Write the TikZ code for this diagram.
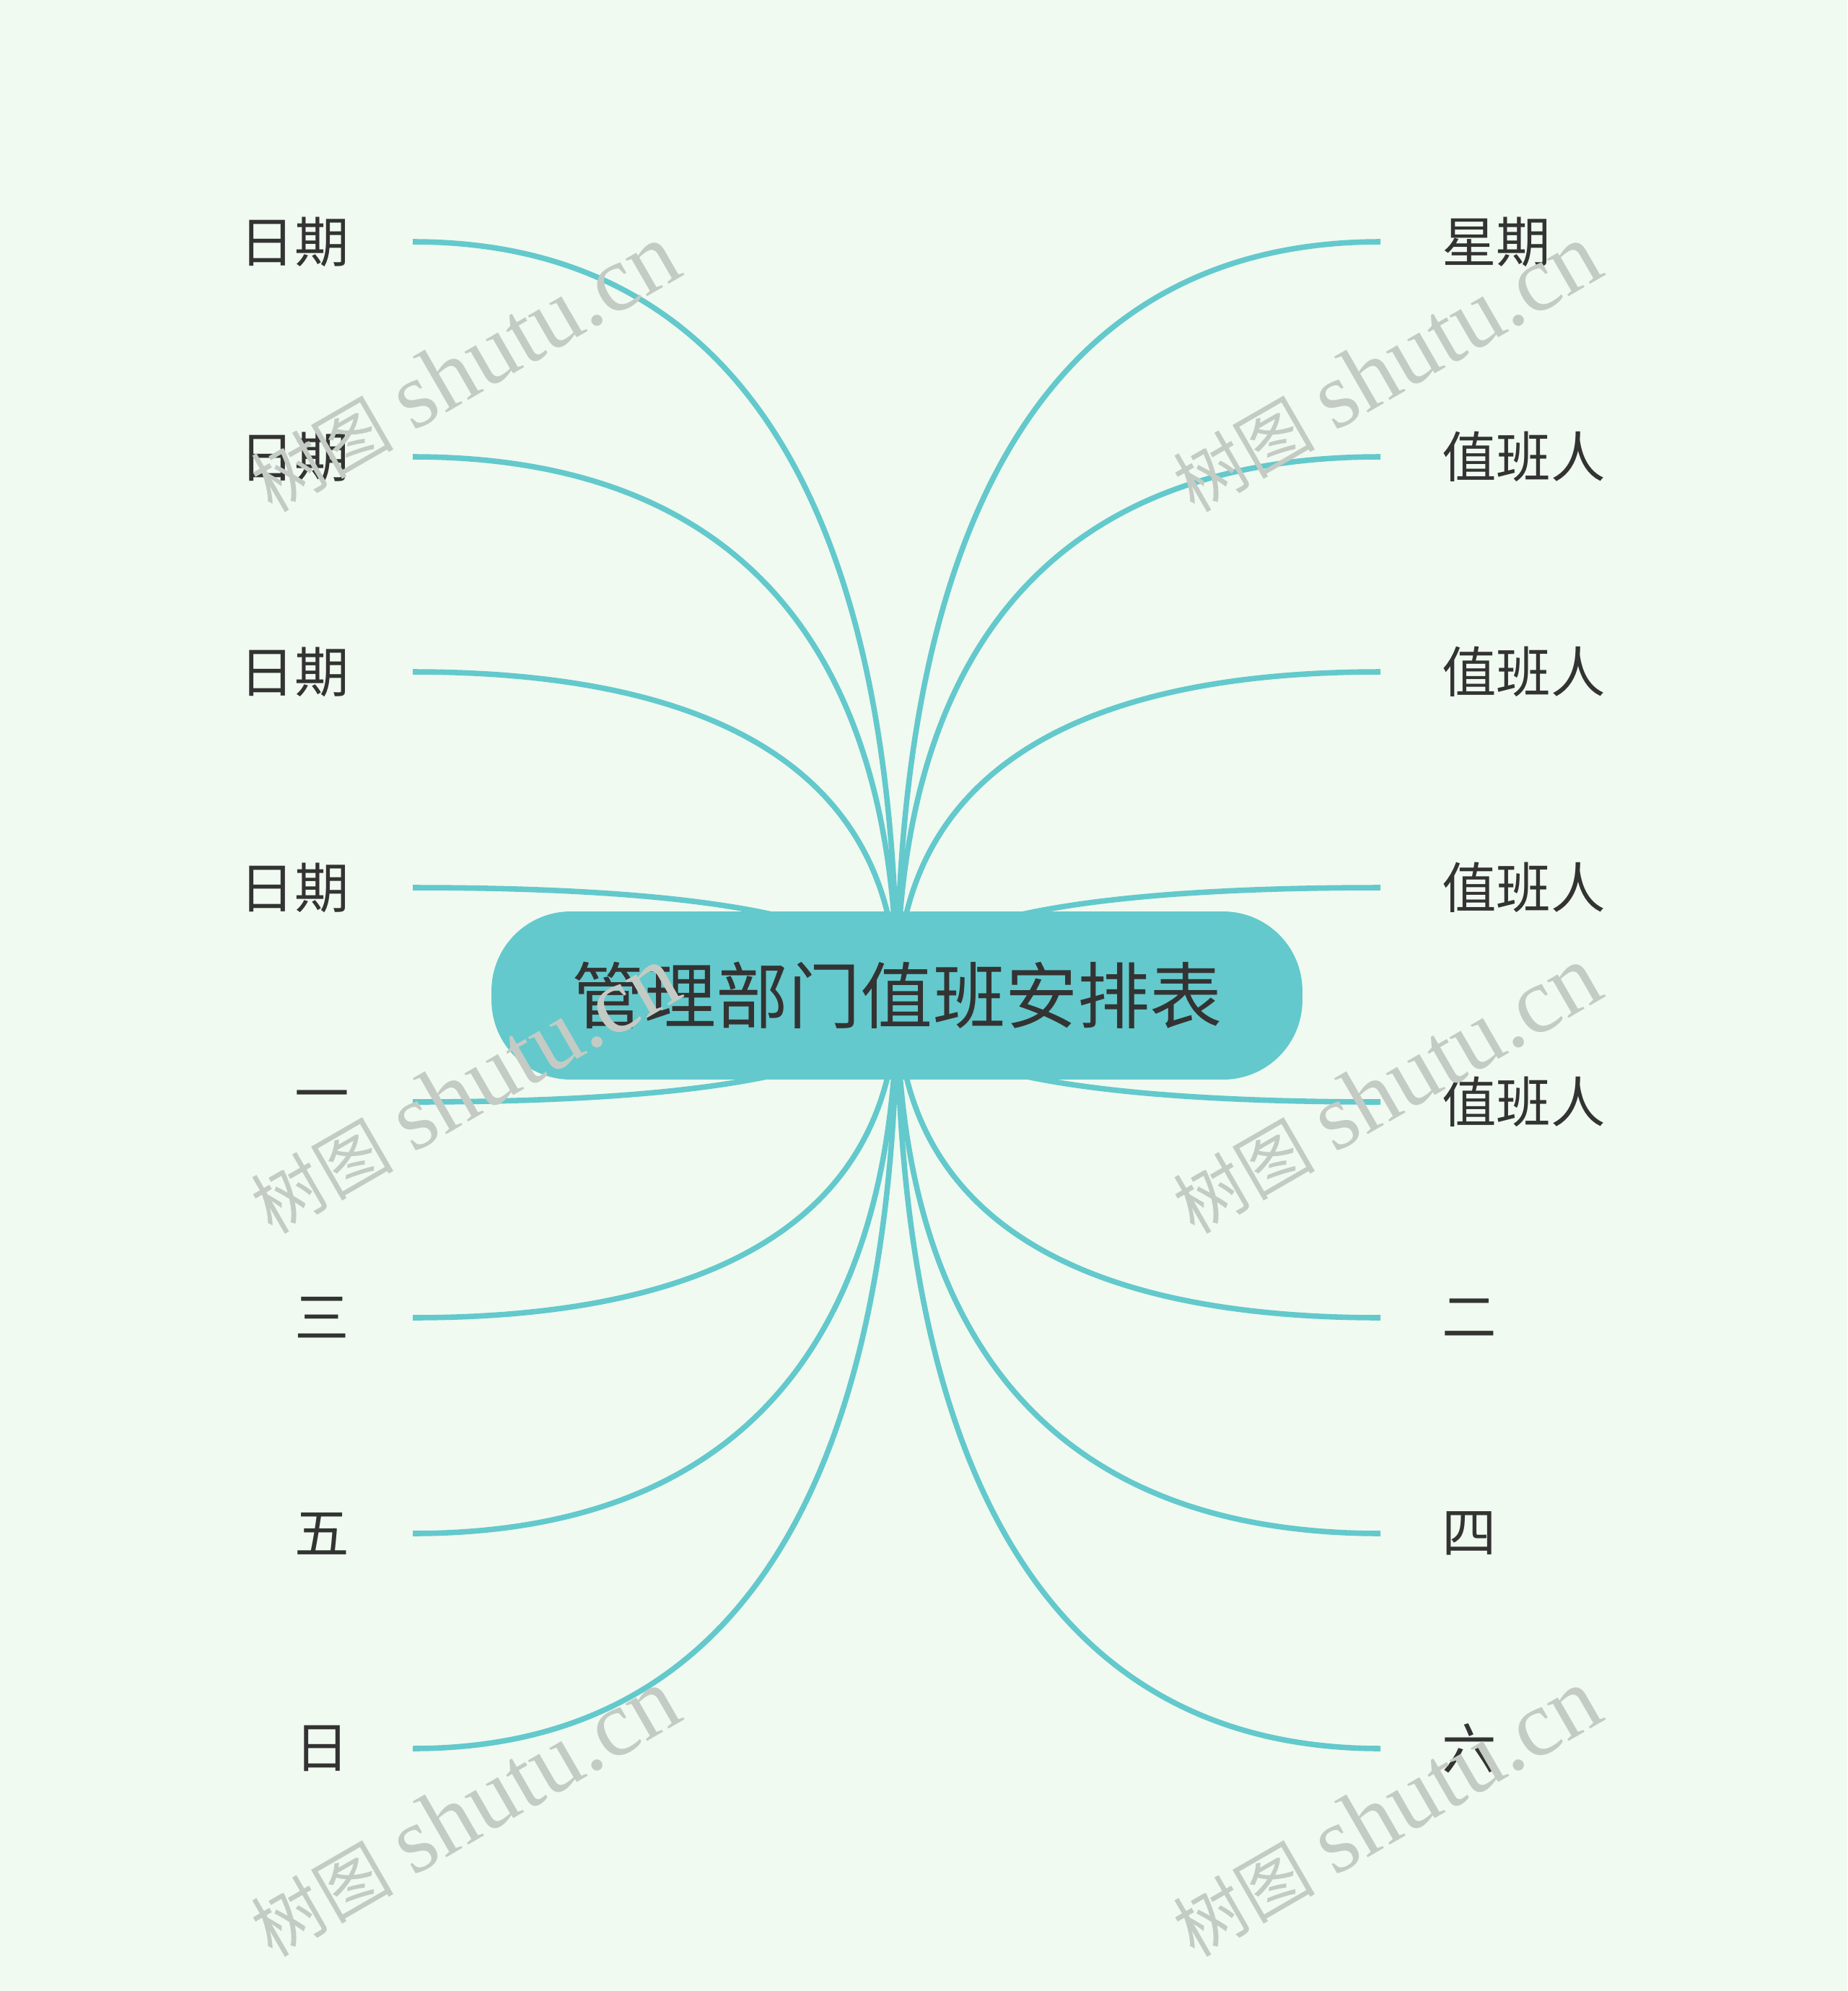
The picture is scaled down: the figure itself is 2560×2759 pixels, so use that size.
\documentclass[tikz,border=0pt]{standalone}
\usepackage{fontspec}
\newfontfamily\cjk{Noto Sans CJK SC}
\newfontfamily\wmlatin{Liberation Serif}
\definecolor{bg}{HTML}{F0FAF0}
\definecolor{teal}{HTML}{63C9CC}
\definecolor{ink}{HTML}{333333}
\definecolor{wm}{HTML}{C4CBC4}
\tikzset{
  conn/.style={draw=teal, line width=4.3pt},
  rootbox/.style={fill=teal, rounded corners=2.2cm, minimum width=22.48cm, minimum height=4.66cm, inner sep=0pt, text=ink, font=\cjk\fontsize{57}{60}\selectfont},
  leaflabel/.style={inner sep=0pt, text=ink, font=\cjk\fontsize{43}{48}\selectfont},
  wmark/.style={rotate=30, text=wm, inner sep=0pt}
}
\begin{document}
\begin{tikzpicture}[x=0.02cm,y=-0.02cm]
\path[fill=bg,use as bounding box] (0,0) rectangle (2560,2759);
\coordinate (rootc) at (1243,1379.5);
% left side
\foreach \i/\y/\t in {1/335/日期,2/633/日期,3/931/日期,4/1230/日期,5/1527/一,6/1826/三,7/2125/五,8/2423/日}{
  \node[leaflabel, anchor=east] (L\i) at (484,\y) {\t};
  \coordinate (lc\i) at (572,\y);
  \draw[conn] (lc\i) .. controls (1109,\y) and (1243,{(\y+1379.5)/2}) .. (rootc);
}
% right side
\foreach \i/\y/\t in {1/335/星期,2/633/值班人,3/931/值班人,4/1230/值班人,5/1527/值班人,6/1826/二,7/2125/四,8/2423/六}{
  \node[leaflabel, anchor=west] (R\i) at (1998,\y) {\t};
  \coordinate (rc\i) at (1913,\y);
  \draw[conn] (rc\i) .. controls (1377,\y) and (1243,{(\y+1379.5)/2}) .. (rootc);
}
\node[rootbox] (root) at (rootc) {管理部门值班安排表};
% watermarks
\foreach \n/\x/\y in {1/644/510,2/644/1510,3/644/2512,4/1921/510,5/1921/1510,6/1921/2512}{
  \node[wmark] (wm\n) at (\x,\y) {{\cjk\fontsize{56}{60}\selectfont 树图}\hspace{16pt}{\wmlatin\fontsize{74}{80}\selectfont shutu.cn}};
}
\end{tikzpicture}
\end{document}
